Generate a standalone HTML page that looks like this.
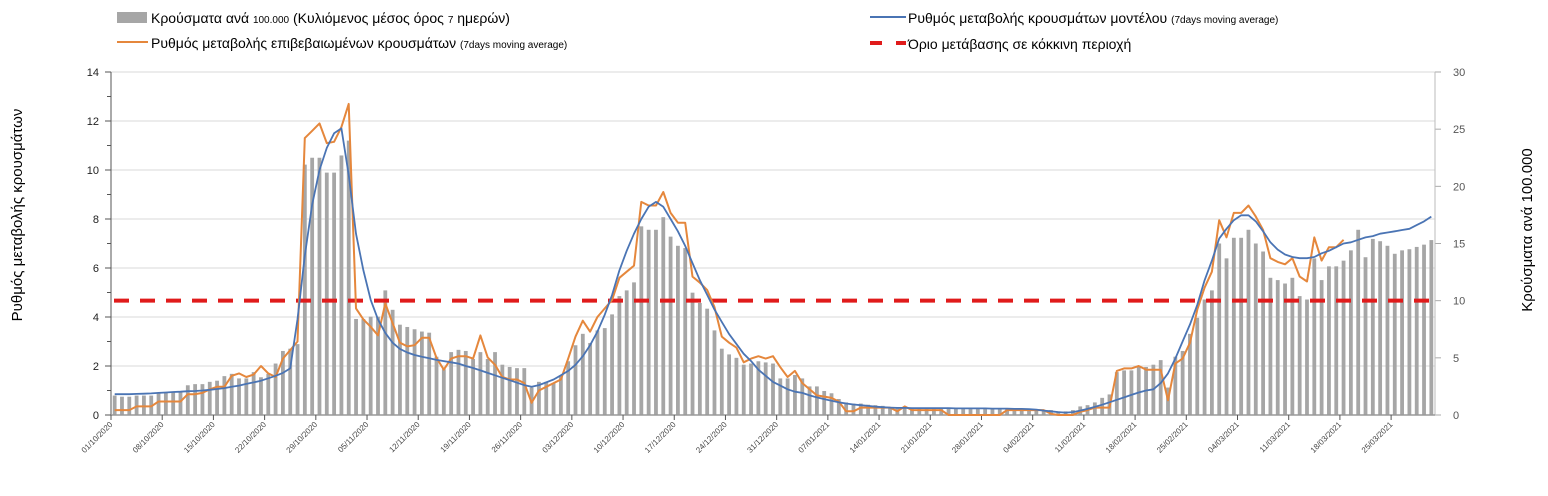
<!DOCTYPE html>
<html><head><meta charset="utf-8"><style>
html,body{margin:0;padding:0;background:#fff;}
svg{display:block;font-family:"Liberation Sans",sans-serif;}
</style></head><body>
<svg id="chart" width="1548" height="496" viewBox="0 0 1548 496" xmlns="http://www.w3.org/2000/svg">
<g>
  <g>
    <rect x="117" y="12" width="30" height="11" fill="#a6a6a6"/>
    <text x="151" y="23" font-size="14" fill="#000">Κρούσματα ανά <tspan font-size="10">100.000</tspan> (Κυλιόμενος μέσος όρος <tspan font-size="10">7</tspan> ημερών)</text>
  </g>
  <g>
    <line x1="117" y1="42" x2="148" y2="42" stroke="#e5873c" stroke-width="2"/>
    <text x="151" y="48" font-size="14" fill="#000">Ρυθμός μεταβολής επιβεβαιωμένων κρουσμάτων <tspan font-size="10">(7days moving average)</tspan></text>
  </g>
  <g>
    <line x1="870" y1="17" x2="906" y2="17" stroke="#4a74b4" stroke-width="2"/>
    <text x="908" y="23" font-size="14" fill="#000">Ρυθμός μεταβολής κρουσμάτων μοντέλου <tspan font-size="10">(7days moving average)</tspan></text>
  </g>
  <g>
    <line x1="870" y1="43" x2="882" y2="43" stroke="#e01b1b" stroke-width="4"/>
    <line x1="896" y1="43" x2="906" y2="43" stroke="#e01b1b" stroke-width="4"/>
    <text x="908" y="49" font-size="14" fill="#000">Όριο μετάβασης σε κόκκινη περιοχή</text>
  </g>
</g>
<text transform="translate(22,215) rotate(-90)" text-anchor="middle" font-size="15" fill="#000">Ρυθμός μεταβολής κρουσμάτων</text>
<text transform="translate(1532,230) rotate(-90)" text-anchor="middle" font-size="15" fill="#000">Κρούσματα ανά 100.000</text>
<g id="grid"></g>
<g id="bars"></g>
<g id="axes"></g>
<g id="lines"></g>
</svg>
<script>
const startDate = [2020, 10, 1];
const leftTicks = [0,2,4,6,8,10,12,14];
const rightTicks = [0,5,10,15,20,25,30];
const cases = [1.7,1.6,1.6,1.7,1.7,1.7,1.9,2.0,2.0,2.1,2.6,2.7,2.7,2.9,3.0,3.4,3.6,3.2,3.2,3.75,3.3,3.6,4.5,5.6,5.8,6.2,
21.9,22.5,22.5,21.2,21.2,22.7,24.0,8.4,8.4,8.6,8.6,10.9,9.2,7.9,7.7,7.5,7.3,7.2,
5.1,4.0,5.5,5.7,5.6,4.9,5.5,4.9,5.5,4.4,4.2,4.1,4.1,2.4,2.9,2.9,2.8,3.4,4.7,6.1,
7.1,6.3,7.4,7.6,8.8,10.4,10.9,11.6,16.5,16.2,16.2,17.3,15.6,14.8,14.6,10.7,9.8,9.3,7.4,5.8,5.3,5.0,4.4,4.5,4.7,4.6,4.5,3.2,3.2,3.5,
3.2,2.5,2.5,2.1,1.9,1.4,1.1,1.0,1.0,0.9,0.86,0.8,0.65,0.65,0.75,
0.65,0.65,0.65,0.6,0.6,0.6,0.6,0.6,0.6,0.6,0.55,0.55,0.55,0.55,0.55,0.55,0.5,0.5,
0.4,0.43,0.32,0.32,0.43,0.75,0.86,1.1,1.5,1.8,3.75,3.9,3.9,4.3,4.2,4.4,4.8,2.4,5.1,5.6,7.1,8.5,10.1,10.9,15.0,13.7,15.5,15.5,16.2,15.0,14.3,12.0,11.8,11.5,12.0,10.4,10.1,13.7,11.8,13.0,13.0,13.5,14.4,16.2,13.8,15.4,15.2,14.8,14.1,14.4,14.5,14.7,14.9,15.3];
const modelRate = [0.85,0.85,0.85,0.86,0.87,0.88,0.9,0.92,0.94,0.95,0.97,0.98,1.0,1.03,1.06,1.1,1.15,1.2,1.27,1.33,1.4,1.5,1.6,1.72,1.9,
3.9,6.5,8.6,10.0,10.9,11.5,11.7,9.8,7.4,5.9,4.7,3.9,3.35,2.95,2.7,2.55,2.45,2.38,2.32,2.25,2.2,2.15,2.1,2.0,1.92,1.82,1.72,1.62,1.52,1.42,1.32,1.22,
1.15,1.22,1.33,1.45,1.62,1.8,2.05,2.4,2.85,3.4,4.1,4.9,5.9,6.7,7.4,8.0,8.5,8.7,8.5,8.0,7.5,6.9,6.2,5.5,4.9,4.3,3.8,3.3,2.9,2.5,2.2,1.85,1.6,1.35,1.2,1.05,0.95,
0.9,0.8,0.72,0.65,0.58,0.52,0.47,0.43,0.4,0.37,0.34,0.32,0.3,
0.29,0.29,0.28,0.28,0.28,0.28,0.28,0.28,0.27,0.27,0.27,0.27,0.27,0.26,0.26,0.26,0.25,0.25,0.24,
0.22,0.18,0.15,0.12,0.1,0.12,0.18,0.25,0.33,0.42,0.52,0.62,0.72,0.82,0.92,1.0,1.05,1.3,1.7,2.3,3.0,3.7,4.5,5.5,6.3,7.2,7.6,7.95,8.15,8.15,7.9,7.5,7.05,6.75,6.55,6.45,6.4,6.4,6.45,6.6,6.7,6.85,7.0,7.05,7.15,7.25,7.3,7.4,7.45,7.5,7.55,7.6,7.75,7.9,8.1];
const confirmedRate = [0.2,0.2,0.2,0.35,0.35,0.35,0.55,0.55,0.55,0.55,0.85,0.85,0.9,1.05,1.15,1.15,1.6,1.7,1.55,1.65,2.0,1.7,
1.55,2.3,2.65,3.0,11.3,11.6,11.9,11.1,11.15,11.75,12.7,4.35,3.9,3.6,3.25,4.55,3.75,2.95,2.8,2.85,3.15,3.15,2.33,1.85,2.3,2.4,2.4,2.3,3.25,2.35,
2.05,1.55,1.45,1.45,1.3,0.5,1.0,1.15,1.3,1.45,
2.3,3.2,3.85,3.4,4.0,4.35,4.7,5.6,5.85,6.1,8.7,8.55,8.55,9.1,8.25,7.85,7.85,5.65,5.4,5.1,4.4,3.2,2.95,2.75,2.15,2.3,2.4,2.3,2.4,1.95,1.55,1.8,
1.3,1.05,0.8,0.75,0.7,0.55,0.15,0.15,0.3,0.3,0.3,0.3,0.3,0.15,0.35,
0.2,0.2,0.2,0.2,0.2,0,0,0,0,0,0,0,0,0.2,0.2,0.2,0.2,0.2,0.2,
0.05,0,0,0,0.13,0.2,0.3,0.3,0.3,
1.8,1.9,1.9,2.0,1.85,1.85,1.85,0.6,2.1,2.3,2.95,4.3,5.2,5.85,7.95,7.25,8.25,8.25,8.55,8.1,7.55,6.4,6.25,6.15,6.4,5.65,5.45,7.25,6.3,6.85,6.85,7.15];
const redThreshold = 4.67;

const NS = "http://www.w3.org/2000/svg";
const X0 = 111, X1 = 1435, Y0 = 415, Y1 = 72;
const N = cases.length;
const band = (X1 - X0) / N;
const xC = i => X0 + band * (i + 0.5);
const xB = i => X0 + band * i;
const yL = v => Y0 - (v / 14) * (Y0 - Y1);
const yR = v => Y0 - (v / 30) * (Y0 - Y1);
function mk(tag, attrs, parent) {
  const e = document.createElementNS(NS, tag);
  for (const k in attrs) e.setAttribute(k, attrs[k]);
  parent.appendChild(e);
  return e;
}
const grid = document.getElementById('grid');
const axes = document.getElementById('axes');
const barsG = document.getElementById('bars');
const linesG = document.getElementById('lines');

leftTicks.forEach(t => {
  if (t > 0) {
    const g = mk('line', {x1: X0, x2: X1, y1: yL(t), y2: yL(t), stroke: '#d9d9d9', 'stroke-width': 1}, grid);
    
    
  }
  const tk = mk('line', {x1: X0 - 6, x2: X0, y1: yL(t), y2: yL(t), stroke: '#555', 'stroke-width': 1}, axes);
  
  
  const lb = mk('text', {x: 99, y: yL(t) + 4, 'text-anchor': 'end', 'font-size': 11, fill: '#222'}, axes);
  lb.textContent = t;
  
  
});
for (let v = 1; v < 14; v += 2) {
  const mt = mk('line', {x1: X0 - 4, x2: X0, y1: yL(v), y2: yL(v), stroke: '#555', 'stroke-width': 1}, axes);
  
  
}
rightTicks.forEach(t => {
  const tk = mk('line', {x1: X1, x2: X1 + 6, y1: yR(t), y2: yR(t), stroke: '#aaa', 'stroke-width': 1}, axes);
  
  
  const lb = mk('text', {x: 1453, y: yR(t) + 4, 'font-size': 11, fill: '#555'}, axes);
  lb.textContent = t;
  
  
});
const la = mk('line', {x1: X0, x2: X0, y1: Y1, y2: Y0, stroke: '#555', 'stroke-width': 1}, axes);


const ra = mk('line', {x1: X1, x2: X1, y1: Y1, y2: Y0, stroke: '#bbb', 'stroke-width': 1}, axes);


const xa = mk('line', {x1: X0, x2: X1, y1: Y0, y2: Y0, stroke: '#999', 'stroke-width': 1.5}, axes);



cases.forEach((v, i) => {
  const bw = 3.8;
  const r = mk('rect', {x: xC(i) - bw / 2, y: yR(v), width: bw, height: Y0 - yR(v), fill: '#a6a6a6'}, barsG);
  
  
});

function pad(n) { return (n < 10 ? '0' : '') + n; }
for (let i = 0; i < N; i += 7) {
  const d = new Date(startDate[0], startDate[1] - 1, startDate[2] + i);
  const x = xB(i);
  const tk = mk('line', {x1: x, x2: x, y1: Y0, y2: Y0 + 5, stroke: '#555', 'stroke-width': 1}, axes);
  
  
  const lb = mk('text', {transform: 'translate(' + (x + 2) + ',' + (Y0 + 10) + ') rotate(-45)', 'text-anchor': 'end', 'font-size': 8, fill: '#444'}, axes);
  lb.textContent = pad(d.getDate()) + '/' + pad(d.getMonth() + 1) + '/' + d.getFullYear();
  
  
}

const th = mk('line', {x1: X0 + 3, x2: X1, y1: yL(redThreshold), y2: yL(redThreshold), stroke: '#e01b1b', 'stroke-width': 4, 'stroke-dasharray': '15 11'}, linesG);



const ptsO = confirmedRate.map((v, i) => xC(i).toFixed(1) + ',' + yL(v).toFixed(1)).join(' ');
const po = mk('polyline', {points: ptsO, fill: 'none', stroke: '#e5873c', 'stroke-width': 2, 'stroke-linejoin': 'round'}, linesG);



const ptsB = modelRate.map((v, i) => xC(i).toFixed(1) + ',' + yL(v).toFixed(1)).join(' ');
const pb = mk('polyline', {points: ptsB, fill: 'none', stroke: '#4a74b4', 'stroke-width': 1.8, 'stroke-linejoin': 'round'}, linesG);


</script>
</body></html>
